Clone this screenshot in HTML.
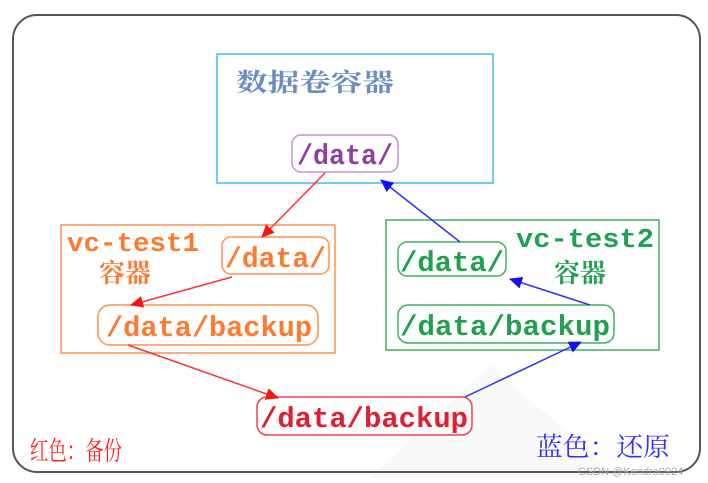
<!DOCTYPE html>
<html><head><meta charset="utf-8"><style>
html,body{margin:0;padding:0;background:#fff;}
svg{display:block;}
.m{font-family:"Liberation Mono",monospace;font-weight:bold;}
.c{font-family:"Liberation Sans","Noto Serif CJK SC","Noto Sans CJK SC",sans-serif;font-weight:bold;}
</style></head><body>
<svg width="708" height="483" viewBox="0 0 708 483" xmlns="http://www.w3.org/2000/svg">
<defs>
<marker id="ar" markerWidth="13" markerHeight="12" refX="12" refY="6" orient="auto" markerUnits="userSpaceOnUse"><path d="M0,0 L13,6 L0,12 z" fill="#ff1010"/></marker>
<marker id="ab" markerWidth="13" markerHeight="12" refX="12" refY="6" orient="auto" markerUnits="userSpaceOnUse"><path d="M0,0 L13,6 L0,12 z" fill="#1010ff"/></marker>
</defs>
<polygon points="370,478 490,365 620,478" fill="#f9f9f9"/>
<rect x="13" y="15" width="687" height="457" rx="24" fill="none" stroke="#555" stroke-width="2"/>
<rect x="217" y="54" width="276" height="129" fill="none" stroke="#40b8f0" stroke-width="1.5"/>
<text x="236" y="91" class="c" font-size="25" fill="#6a8cc0" textLength="158" lengthAdjust="spacingAndGlyphs">数据卷容器</text>
<rect x="292" y="135" width="106" height="37" rx="9" fill="none" stroke="#c890d0" stroke-width="1.5"/>
<text x="297" y="164" class="m" font-size="29" fill="#9040a0" textLength="96" lengthAdjust="spacingAndGlyphs">/data/</text>
<rect x="61" y="225" width="274" height="128" fill="none" stroke="#ff9050" stroke-width="1.5"/>
<text x="67" y="251" class="m" font-size="27" fill="#ff7a30" textLength="132" lengthAdjust="spacingAndGlyphs">vc-test1</text>
<text x="99" y="282" class="c" font-size="26" fill="#ff7a30" textLength="52" lengthAdjust="spacingAndGlyphs">容器</text>
<rect x="222" y="237" width="107" height="37" rx="9" fill="none" stroke="#ff9050" stroke-width="1.5"/>
<text x="225" y="267" class="m" font-size="29" fill="#ff7a30" textLength="101" lengthAdjust="spacingAndGlyphs">/data/</text>
<rect x="98" y="305" width="220" height="40" rx="12" fill="none" stroke="#ff9050" stroke-width="1.5"/>
<text x="106" y="336" class="m" font-size="29" fill="#ff7a30" textLength="206" lengthAdjust="spacingAndGlyphs">/data/backup</text>
<rect x="386" y="220" width="273" height="130" fill="none" stroke="#40b060" stroke-width="1.5"/>
<text x="516" y="247" class="m" font-size="27" fill="#20a050" textLength="138" lengthAdjust="spacingAndGlyphs">vc-test2</text>
<text x="554" y="282" class="c" font-size="26" fill="#20a050" textLength="52" lengthAdjust="spacingAndGlyphs">容器</text>
<rect x="398" y="242" width="108" height="34" rx="9" fill="none" stroke="#40b060" stroke-width="1.5"/>
<text x="400" y="271" class="m" font-size="29" fill="#20a050" textLength="104" lengthAdjust="spacingAndGlyphs">/data/</text>
<rect x="398" y="305" width="216" height="38" rx="10" fill="none" stroke="#40b060" stroke-width="1.5"/>
<text x="400" y="335" class="m" font-size="29" fill="#20a050" textLength="210" lengthAdjust="spacingAndGlyphs">/data/backup</text>
<rect x="257" y="397" width="215" height="38" rx="10" fill="none" stroke="#f04050" stroke-width="1.5"/>
<text x="260" y="427" class="m" font-size="29" fill="#e02030" textLength="208" lengthAdjust="spacingAndGlyphs">/data/backup</text>
<line x1="325" y1="173" x2="262" y2="237" stroke="#ff3030" stroke-width="1.5" marker-end="url(#ar)"/>
<line x1="232" y1="277" x2="131" y2="305" stroke="#ff3030" stroke-width="1.5" marker-end="url(#ar)"/>
<line x1="128" y1="345" x2="278" y2="398" stroke="#ff3030" stroke-width="1.5" marker-end="url(#ar)"/>
<line x1="460" y1="242" x2="381" y2="180" stroke="#3030ff" stroke-width="1.5" marker-end="url(#ab)"/>
<line x1="590" y1="305" x2="510" y2="279" stroke="#3030ff" stroke-width="1.5" marker-end="url(#ab)"/>
<line x1="465" y1="397" x2="581" y2="342" stroke="#3030ff" stroke-width="1.5" marker-end="url(#ab)"/>
<text x="30" y="460" class="c" font-size="26" fill="#ff2020" textLength="92" lengthAdjust="spacingAndGlyphs" style="font-weight:normal">红色：备份</text>
<text x="536" y="456" class="c" font-size="26" fill="#3030ff" textLength="134" lengthAdjust="spacingAndGlyphs" style="font-weight:normal">蓝色：还原</text>
<text x="578" y="475" font-family="Liberation Sans,sans-serif" font-size="11" fill="#aaa">CSDN @Kendra0924</text>
</svg>
</body></html>
